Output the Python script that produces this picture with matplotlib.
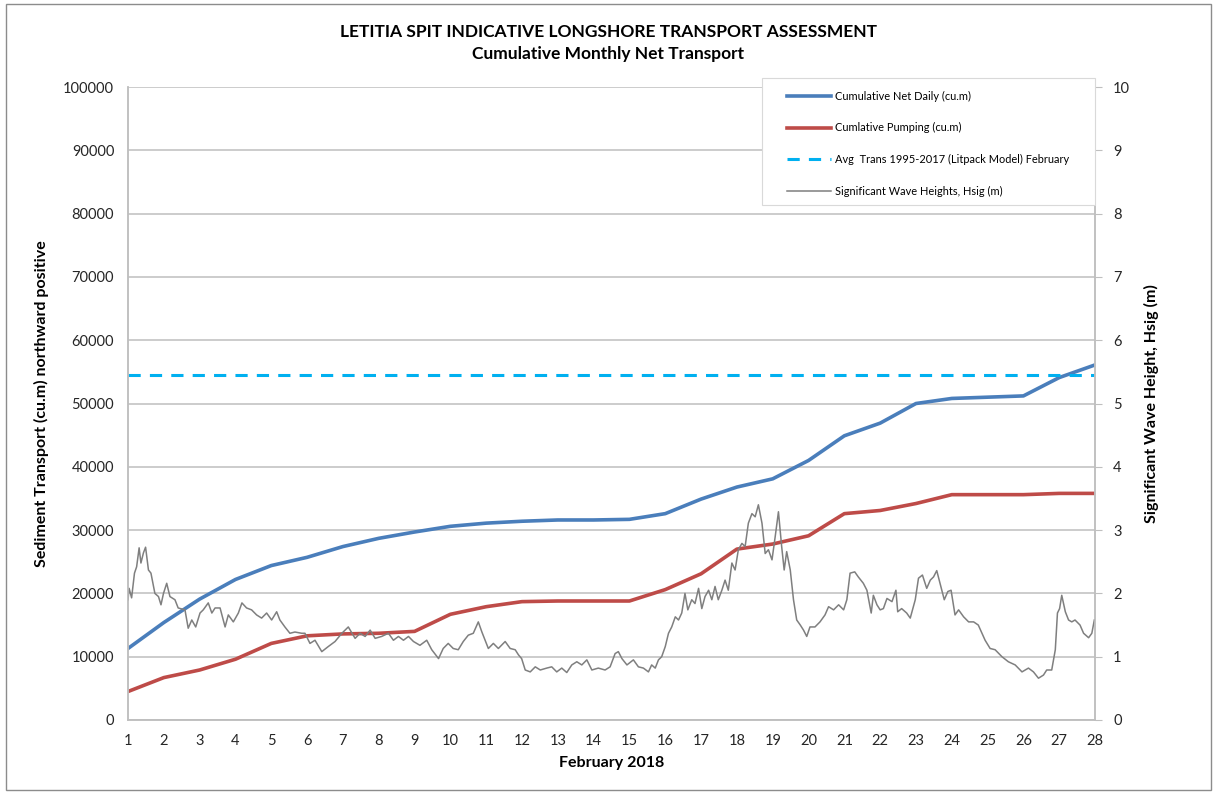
import numpy as np
import matplotlib
matplotlib.use("Agg")
import matplotlib.pyplot as plt
from matplotlib.patches import Rectangle

plt.rcParams['font.family'] = ['Lato', 'DejaVu Sans']

# daily cumulative series (cu.m)
days = list(range(1, 29))
net_daily = [11300, 15400, 19100, 22200, 24400, 25700, 27400, 28700, 29700, 30600,
             31100, 31400, 31600, 31600, 31700, 32600, 34900, 36800, 38100, 41000,
             44900, 46900, 50000, 50800, 51000, 51200, 54100, 56100]
pumping = [4500, 6700, 7900, 9600, 12100, 13300, 13600, 13700, 14000, 16700,
           17900, 18700, 18800, 18800, 18800, 20600, 23100, 27000, 27800, 29100,
           32600, 33100, 34200, 35600, 35600, 35600, 35800, 35800]
avg_trans = 54500

# significant wave height (m)
wave_day = [1.00, 1.03, 1.10, 1.18, 1.24, 1.31, 1.36, 1.43, 1.49, 1.57, 1.64, 1.75, 1.85, 1.92,
            1.99, 2.08, 2.17, 2.31, 2.40, 2.59, 2.68, 2.78, 2.89, 3.01, 3.10, 3.24, 3.34, 3.43,
            3.57, 3.71, 3.80, 3.94, 4.08, 4.18, 4.31, 4.45, 4.59, 4.73, 4.87, 5.01, 5.15, 5.24,
            5.38, 5.52, 5.66, 5.85, 5.94, 6.08, 6.22, 6.41, 6.59, 6.78, 6.97, 7.15, 7.34, 7.48,
            7.62, 7.76, 7.90, 8.08, 8.27, 8.41, 8.55, 8.69, 8.83, 8.97, 9.15, 9.34, 9.48, 9.67,
            9.80, 9.94, 10.08, 10.22, 10.36, 10.50, 10.64, 10.78, 10.88, 10.97, 11.06, 11.20,
            11.34, 11.53, 11.67, 11.81, 11.90, 11.99, 12.09, 12.23, 12.37, 12.51, 12.69, 12.83,
            12.97, 13.11, 13.25, 13.39, 13.53, 13.67, 13.81, 13.95, 14.13, 14.32, 14.46, 14.60,
            14.69, 14.79, 14.93, 15.11, 15.25, 15.39, 15.53, 15.62, 15.72, 15.81, 15.90, 16.00,
            16.09, 16.18, 16.28, 16.37, 16.46, 16.55, 16.63, 16.74, 16.83, 16.93, 17.02, 17.11,
            17.21, 17.30, 17.39, 17.48, 17.58, 17.67, 17.76, 17.86, 17.95, 18.04, 18.14, 18.23,
            18.32, 18.42, 18.51, 18.60, 18.70, 18.79, 18.88, 18.98, 19.07, 19.16, 19.25, 19.32,
            19.39, 19.49, 19.58, 19.67, 19.77, 19.86, 19.95, 20.04, 20.18, 20.32, 20.46, 20.56,
            20.70, 20.84, 20.98, 21.07, 21.16, 21.29, 21.39, 21.53, 21.63, 21.75, 21.81, 21.91,
            22.00, 22.09, 22.19, 22.33, 22.44, 22.49, 22.60, 22.74, 22.84, 22.98, 23.07, 23.18,
            23.30, 23.40, 23.49, 23.58, 23.67, 23.79, 23.89, 23.98, 24.09, 24.19, 24.33, 24.47,
            24.61, 24.74, 24.93, 25.07, 25.21, 25.40, 25.58, 25.77, 25.96, 26.14, 26.28, 26.42,
            26.56, 26.65, 26.79, 26.89, 26.95, 27.01, 27.07, 27.17, 27.26, 27.35, 27.44, 27.58,
            27.68, 27.82, 27.91, 27.98]
wave_h = [1.90, 2.08, 1.93, 2.32, 2.42, 2.72, 2.48, 2.64, 2.73, 2.37, 2.32, 2.00, 1.95, 1.82,
          2.00, 2.16, 1.95, 1.90, 1.77, 1.74, 1.45, 1.58, 1.47, 1.69, 1.74, 1.85, 1.69, 1.77,
          1.77, 1.47, 1.66, 1.55, 1.69, 1.85, 1.77, 1.74, 1.66, 1.61, 1.69, 1.58, 1.71, 1.58,
          1.47, 1.37, 1.39, 1.37, 1.37, 1.21, 1.26, 1.08, 1.16, 1.24, 1.37, 1.47, 1.29, 1.37,
          1.32, 1.42, 1.29, 1.32, 1.37, 1.26, 1.32, 1.26, 1.32, 1.24, 1.18, 1.26, 1.11, 0.97,
          1.13, 1.21, 1.13, 1.11, 1.24, 1.34, 1.37, 1.55, 1.39, 1.26, 1.13, 1.21,
          1.13, 1.24, 1.13, 1.11, 1.03, 0.97, 0.79, 0.76, 0.84, 0.79, 0.82, 0.84,
          0.76, 0.82, 0.75, 0.87, 0.92, 0.87, 0.95, 0.79, 0.82, 0.79, 0.84, 1.05,
          1.08, 0.97, 0.87, 0.95, 0.84, 0.82, 0.76, 0.87, 0.82, 0.95, 1.00, 1.16,
          1.37, 1.47, 1.63, 1.58, 1.69, 2.00, 1.74, 1.90, 1.84, 2.08, 1.76, 1.95,
          2.05, 1.90, 2.11, 1.90, 2.05, 2.21, 2.05, 2.48, 2.37, 2.69, 2.79, 2.74,
          3.11, 3.26, 3.21, 3.40, 3.11, 2.63, 2.69, 2.53, 2.90, 3.29, 2.74, 2.37,
          2.66, 2.37, 1.90, 1.58, 1.50, 1.42, 1.32, 1.47, 1.47, 1.55, 1.66, 1.79,
          1.74, 1.82, 1.74, 1.90, 2.32, 2.34, 2.26, 2.16, 2.05, 1.69, 1.97, 1.82,
          1.74, 1.76, 1.92, 1.87, 2.05, 1.71, 1.76, 1.69, 1.61, 1.90, 2.24, 2.29,
          2.08, 2.21, 2.26, 2.36, 2.16, 1.90, 2.03, 2.05, 1.66, 1.74, 1.63, 1.55,
          1.55, 1.50, 1.26, 1.13, 1.11, 1.00, 0.92, 0.87, 0.76, 0.82, 0.76, 0.66,
          0.71, 0.79, 0.79, 1.11, 1.69, 1.76, 1.97, 1.71, 1.58, 1.55, 1.58, 1.50,
          1.37, 1.30, 1.37, 1.58]

W, H = 1217, 794
fig = plt.figure(figsize=(W / 100, H / 100), dpi=100)
ax = fig.add_axes([0.1052, 0.0932, 0.7946, 0.7972])
ax2 = ax.twinx()

grid_c = '#bfbfbf'
l1, = ax.plot(days, net_daily, color='#4a7ebb', lw=2.6, label='Cumulative Net Daily (cu.m)')
l2, = ax.plot(days, pumping, color='#be4b48', lw=2.6, label='Cumlative Pumping (cu.m)')
l3, = ax.plot([1, 28], [avg_trans, avg_trans], color='#00b0f0', lw=2.2, ls=(0, (4, 3)),
              label='Avg  Trans 1995-2017 (Litpack Model) February')
l4, = ax2.plot(wave_day, wave_h, color='#7f7f7f', lw=1.1, label='Significant Wave Heights, Hsig (m)')

ax.set_xlim(1, 28)
ax.set_ylim(0, 100000)
ax.set_yticks(np.arange(0, 100001, 10000))
ax.set_xticks(days)
ax2.set_ylim(0, 10)
ax2.set_yticks(range(0, 11))

ax.grid(axis='y', color=grid_c, lw=1.1)
ax.set_axisbelow(True)
for a in (ax, ax2):
    for s in a.spines.values():
        s.set_color(grid_c)
        s.set_linewidth(1.1)
    a.spines['top'].set_visible(False)
    a.tick_params(colors='#262626', labelsize=10.5, length=4, color=grid_c)
ax.tick_params(axis='x', length=0, pad=10)
ax.tick_params(axis='y', length=0, pad=10)
ax2.tick_params(axis='y', length=5, pad=8)

ax.set_xlabel('February 2018', fontsize=11.5, fontweight='bold', labelpad=6)
ax.set_ylabel('Sediment Transport (cu.m) northward positive', fontsize=11.5,
              fontweight='bold', labelpad=10)
ax2.set_ylabel('Significant Wave Height, Hsig (m)', fontsize=11.5, fontweight='bold', labelpad=10)

fig.text(0.5, 0.96, 'LETITIA SPIT INDICATIVE LONGSHORE TRANSPORT ASSESSMENT',
         ha='center', va='center', fontsize=12.5, fontweight='bold')
fig.text(0.5, 0.932, 'Cumulative Monthly Net Transport',
         ha='center', va='center', fontsize=12.5, fontweight='bold')

# legend box drawn by hand so it can be wider than its content
box = Rectangle((762 / W, 1 - 205 / H), 333 / W, 127 / H, transform=fig.transFigure,
                facecolor='white', edgecolor='#d9d9d9', lw=0.8, zorder=4.5, clip_on=False)
ax2.add_patch(box)
leg = ax2.legend(handles=[l1, l2, l3, l4], loc='upper left',
                 bbox_to_anchor=(787 / W, 1 - 90.5 / H), bbox_transform=fig.transFigure,
                 fontsize=7.9, labelspacing=1.9, handlelength=4.0, handletextpad=0.4,
                 borderpad=0, borderaxespad=0, frameon=False)

fig.patches.append(Rectangle((6 / W, 4 / H), 1205 / W, 786 / H,
                             transform=fig.transFigure, fill=False,
                             edgecolor='#8c8c8c', lw=1.0))

fig.savefig('out.png', dpi=100)
